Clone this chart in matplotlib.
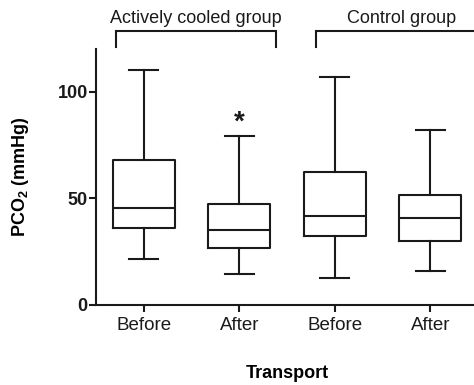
import matplotlib
matplotlib.use("Agg")
import matplotlib.pyplot as plt

plt.rcParams['font.family'] = ['Liberation Sans', 'DejaVu Sans']

categories = ["Before", "After", "Before", "After"]
whisker_low = [21.5, 14.3, 12.6, 15.9]
q1 = [36.1, 26.5, 32.2, 29.9]
median = [45.3, 35.0, 41.9, 40.8]
q3 = [67.8, 47.3, 62.3, 51.4]
whisker_high = [110.1, 79.0, 106.9, 81.9]
groups = ["Actively cooled group", "Control group"]
significant = [False, True, False, False]

stats = []
for i in range(len(categories)):
    stats.append(dict(whislo=whisker_low[i], q1=q1[i], med=median[i],
                      q3=q3[i], whishi=whisker_high[i], fliers=[],
                      label=categories[i]))

fig = plt.figure(figsize=(4.74, 3.85), dpi=100)
ax = fig.add_axes([0.2025, 0.2078, 0.806, 0.665])

lw = 1.5
positions = list(range(1, len(categories) + 1))
ax.bxp(stats, positions=positions, widths=0.646, showfliers=False,
       boxprops=dict(color='#1a1a1a', linewidth=lw),
       medianprops=dict(color='#1a1a1a', linewidth=lw),
       whiskerprops=dict(color='#1a1a1a', linewidth=lw),
       capprops=dict(color='#1a1a1a', linewidth=lw),
       capwidths=0.3)

ax.set_xlim(0.5, 4.5)
ax.set_ylim(0, 120)
ax.set_yticks([0, 50, 100])
ax.set_xticks(positions)
ax.set_xticklabels(categories, fontsize=13.5)
for t in ax.get_yticklabels():
    t.set_fontweight('bold')
    t.set_fontsize(13)

for s in ['top', 'right']:
    ax.spines[s].set_visible(False)
for s in ['left', 'bottom']:
    ax.spines[s].set_linewidth(lw)
    ax.spines[s].set_color('#1a1a1a')
ax.tick_params(axis='both', width=lw, length=5, color='#1a1a1a', colors='#1a1a1a')
ax.tick_params(axis='y', pad=1)
ax.tick_params(axis='x', pad=4)

ax.set_ylabel("PCO$_\\mathregular{2}$ (mmHg)", fontsize=13, fontweight='bold', labelpad=19)
ax.set_xlabel("Transport", fontsize=13, fontweight='bold', labelpad=22)

# significance marker
for i, sig in enumerate(significant):
    if sig:
        ax.text(positions[i], whisker_high[i] + 0.5, "*", ha='center', va='bottom',
                fontsize=20, fontweight='bold', color='#1a1a1a')

# group brackets
bracket_pairs = [(0.706, 2.388), (2.804, 4.604)]
for (x0, x1), name in zip(bracket_pairs, groups):
    ax.plot([x0, x0, x1, x1], [120.9, 128.2, 128.2, 120.9], color='#1a1a1a',
            linewidth=lw, clip_on=False, solid_joinstyle='miter')
    ax.text((x0 + x1) / 2, 132.2, name, ha='center', va='baseline', fontsize=13,
            color='#1a1a1a')

fig.savefig("out.png", dpi=100)
